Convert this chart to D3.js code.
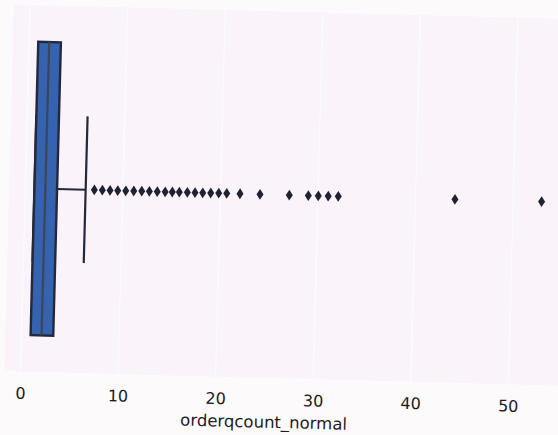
<!DOCTYPE html>
<html>
<head>
<meta charset="utf-8">
<script src="https://cdn.jsdelivr.net/npm/d3@7"></script>
<style>
  html, body { margin: 0; padding: 0; background: #fdfafc; }
  svg { display: block; }
</style>
</head>
<body>
<svg id="chart" width="558" height="435"></svg>
<script>
// ---- data ----
const variableName = "orderqcount_normal";
const boxStats = [0.94, 0.94, 2.06, 3.26, 6.19]; // whiskerLow, q1, median, q3, whiskerHigh
const outliers = [7.08, 7.90, 8.69, 9.48, 10.30, 11.12, 11.94, 12.72, 13.53, 14.34,
                  15.07, 15.79, 16.61, 17.40, 18.19, 19.01, 19.83, 20.65, 22.01, 24.06,
                  27.06, 29.01, 30.03, 31.05, 32.08, 44.04, 52.92];
const tickValues = [0, 10, 20, 30, 40, 50];
const tickLabels = ["0", "10", "20", "30", "40", "50"];

// ---- drawing ----
const svg = d3.select("#chart");
const W = 558, H = 435;
svg.append("rect").attr("width", W).attr("height", H).attr("fill", "#fdfafc");

// whole photographed chart is slightly rotated
const g = svg.append("g").attr("transform", "rotate(1.5, 279, 217)");

const x = d3.scaleLinear().domain([0, 50]).range([24.6, 512.6]);
const y = d3.scaleLinear().domain([-0.5, 0.5]).range([11.4, 378.2]);

const xlim = [-1.66, 55.5];
// axes background
g.append("rect")
  .attr("x", x(xlim[0])).attr("y", y(-0.5))
  .attr("width", x(xlim[1]) - x(xlim[0]))
  .attr("height", y(0.5) - y(-0.5))
  .attr("fill", "#faf3f9");

// grid lines
g.append("g").selectAll("line").data(tickValues).join("line")
  .attr("x1", d => x(d)).attr("x2", d => x(d))
  .attr("y1", y(-0.5)).attr("y2", y(0.5))
  .attr("stroke", "#fdfafd").attr("stroke-width", 1.2);

// axis (labels only, no tick marks, no domain)
const axis = d3.axisBottom(x).tickValues(tickValues)
  .tickFormat((d, i) => tickLabels[i]).tickSize(0).tickPadding(0);
const ax = g.append("g").attr("transform", `translate(0, ${y(0.5) + 16})`).call(axis);
ax.select(".domain").remove();
ax.selectAll("text")
  .attr("font-family", "DejaVu Sans, sans-serif")
  .attr("font-size", 16)
  .attr("fill", "#1c1c1c");

g.append("text")
  .attr("x", 269).attr("y", 428)
  .attr("text-anchor", "middle")
  .attr("font-family", "DejaVu Sans, sans-serif")
  .attr("font-size", 16.5)
  .attr("fill", "#1c1c1c")
  .text(variableName);

const [wLo, q1, med, q3, wHi] = boxStats;
const edge = "#23283a";

// whiskers
g.append("line").attr("x1", x(q3)).attr("x2", x(wHi)).attr("y1", y(0)).attr("y2", y(0))
  .attr("stroke", edge).attr("stroke-width", 2.2);
g.append("line").attr("x1", x(wLo)).attr("x2", x(q1)).attr("y1", y(0)).attr("y2", y(0))
  .attr("stroke", edge).attr("stroke-width", 2.2);
// caps
[wLo, wHi].forEach(v => {
  g.append("line").attr("x1", x(v)).attr("x2", x(v)).attr("y1", y(-0.2)).attr("y2", y(0.2))
    .attr("stroke", edge).attr("stroke-width", 2.2);
});

// box
g.append("rect")
  .attr("x", x(q1)).attr("y", y(-0.4))
  .attr("width", x(q3) - x(q1)).attr("height", y(0.4) - y(-0.4))
  .attr("fill", "#3563b0").attr("stroke", edge).attr("stroke-width", 2.4);
// median
g.append("line").attr("x1", x(med)).attr("x2", x(med)).attr("y1", y(-0.4)).attr("y2", y(0.4))
  .attr("stroke", "#3b4658").attr("stroke-width", 2.2);

// outliers as thin diamonds
const dh = 5.4, dw = 3.5;
g.append("g").selectAll("path").data(outliers).join("path")
  .attr("d", d => `M${x(d)},${y(0) - dh} L${x(d) + dw},${y(0)} L${x(d)},${y(0) + dh} L${x(d) - dw},${y(0)} Z`)
  .attr("fill", "#1e2232");
</script>
</body>
</html>
